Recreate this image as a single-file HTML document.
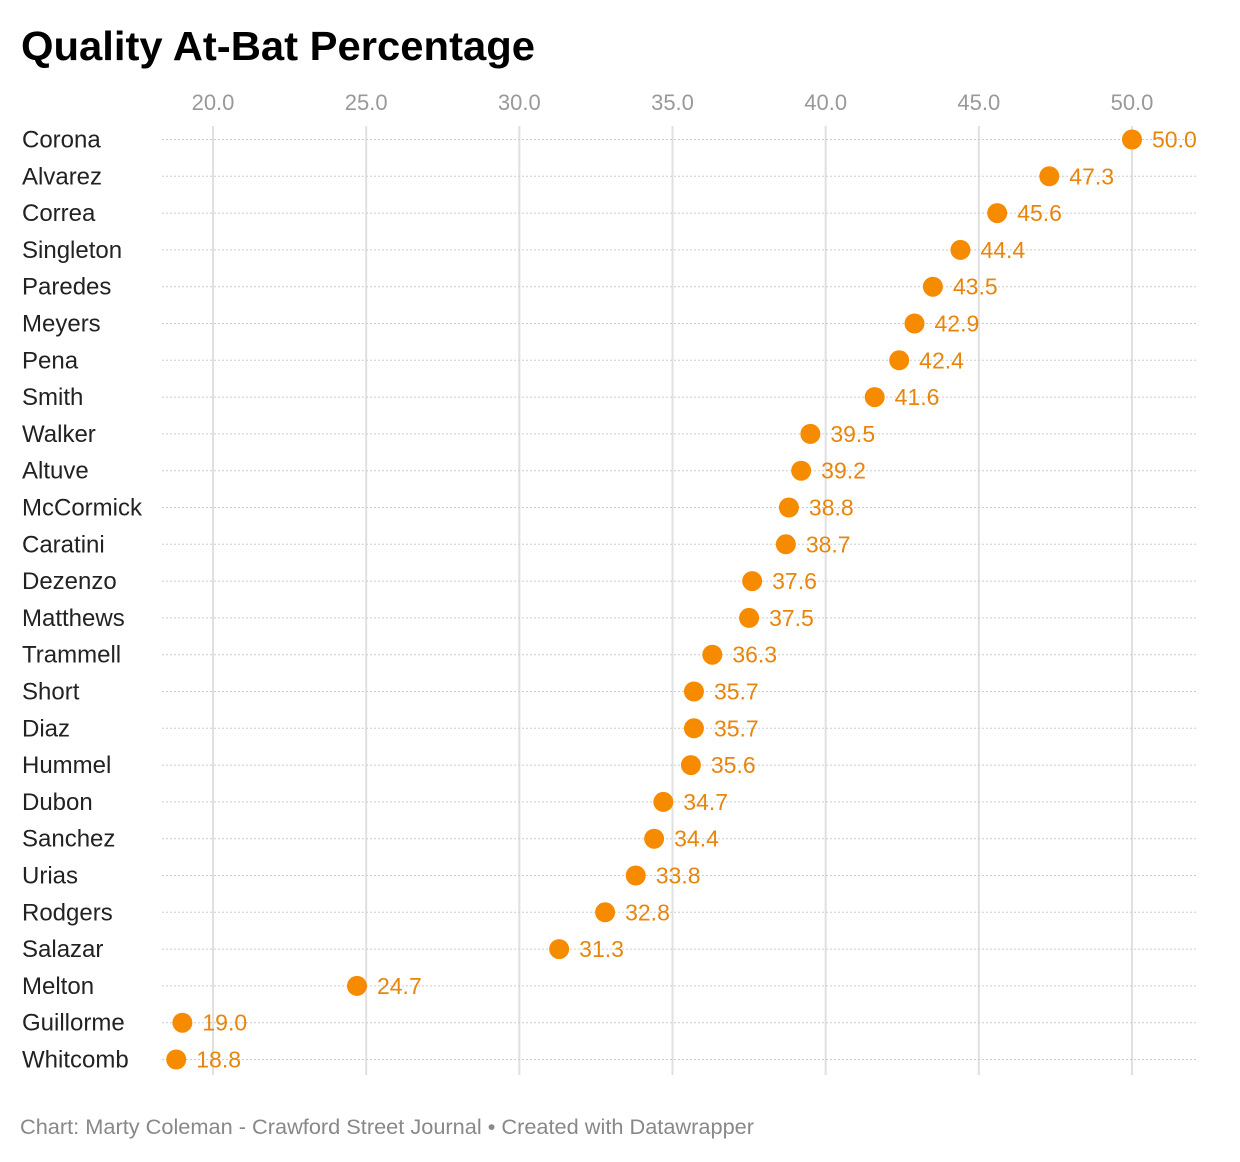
<!DOCTYPE html>
<html><head><meta charset="utf-8"><style>
body{margin:0;background:#fff;font-family:"Liberation Sans",sans-serif;}
svg{display:block}
</style></head><body>
<svg width="1240" height="1162" id="chart">
<text x="21" y="60" font-size="41" font-weight="bold" fill="#000" textLength="514" lengthAdjust="spacingAndGlyphs">Quality At-Bat Percentage</text>
<g id="grid"></g><g id="marks"></g>
<text x="20" y="1134" font-size="21" fill="#888" textLength="734" lengthAdjust="spacingAndGlyphs">Chart: Marty Coleman - Crawford Street Journal • Created with Datawrapper</text>
</svg>
<script>
const names=["Corona","Alvarez","Correa","Singleton","Paredes","Meyers","Pena","Smith","Walker","Altuve","McCormick","Caratini","Dezenzo","Matthews","Trammell","Short","Diaz","Hummel","Dubon","Sanchez","Urias","Rodgers","Salazar","Melton","Guillorme","Whitcomb"];
const values=[50.0,47.3,45.6,44.4,43.5,42.9,42.4,41.6,39.5,39.2,38.8,38.7,37.6,37.5,36.3,35.7,35.7,35.6,34.7,34.4,33.8,32.8,31.3,24.7,19.0,18.8];
const ticks=[20,25,30,35,40,45,50];
const NS="http://www.w3.org/2000/svg";
const x=v=>213+(v-20)*(1132-213)/30;
const y=i=>139.5+i*36.8;
function mk(t,a,p){const e=document.createElementNS(NS,t);for(const k in a)e.setAttribute(k,a[k]);p.appendChild(e);return e;}
const g=document.getElementById('grid'),m=document.getElementById('marks');
ticks.forEach(t=>{
 const l=mk('line',{x1:x(t),x2:x(t),y1:126,y2:1075,stroke:'#e0e0e0','stroke-width':2},g);
 
 
 const tx=mk('text',{x:x(t),y:110,'font-size':22,fill:'#999','text-anchor':'middle'},g);
 tx.textContent=t.toFixed(1);
 
 
});
names.forEach((n,i)=>{
 const l=mk('line',{x1:162,x2:1196,y1:y(i),y2:y(i),stroke:'#ccc','stroke-width':1,'stroke-dasharray':'2,2'},g);
 
 
 const lb=mk('text',{x:22,y:y(i)+8,'font-size':24,fill:'#222'},m);
 lb.textContent=n;
 
 
 const c=mk('circle',{cx:x(values[i]),cy:y(i),r:10,fill:'#f78b00'},m);
 
 
 const v=mk('text',{x:x(values[i])+20,y:y(i)+8,'font-size':23,fill:'#e8850c'},m);
 v.textContent=values[i].toFixed(1);
 
 
});
</script>
</body></html>
